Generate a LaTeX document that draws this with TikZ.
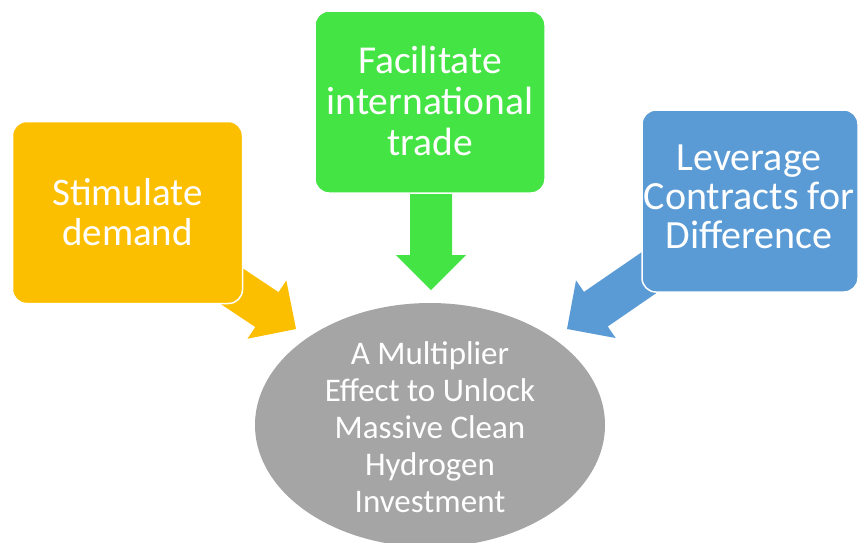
\documentclass[tikz,border=0pt]{standalone}
\usepackage{fontspec}
\setmainfont{Carlito}
\usetikzlibrary{shapes.geometric}
\definecolor{cOrange}{HTML}{FCBF00}
\definecolor{cGreen}{HTML}{45E445}
\definecolor{cBlue}{HTML}{5B9BD5}
\definecolor{cGray}{HTML}{A5A5A5}
\newcommand{\blockarrow}[4]{%
  \begin{scope}[shift={(#2)}, rotate=#3]
    \fill[#1] (0,0) -- (-35,35) -- (-35,21) -- (-#4,21) -- (-#4,-21) -- (-35,-21) -- (-35,-35) -- cycle;
  \end{scope}}
\begin{document}
\begin{tikzpicture}[x=1pt,y=-1pt,
  boxnode/.style={draw=white, line width=1.5pt, rounded corners=14pt, minimum width=#1, minimum height=182pt, inner sep=0pt},
  boxtext/.style={text=white, align=center},
  goaltext/.style={text=white, align=center, font=\fontsize{33}{37}\selectfont}]
\useasboundingbox (0,0) rectangle (859,542);
% tips of the block arrows
\coordinate (tipO) at (296,329);
\coordinate (tipG) at (431,290);
\coordinate (tipB) at (567,329);
\blockarrow{cOrange}{tipO}{-33.7}{120}
\blockarrow{cGreen}{tipG}{-90}{110}
\blockarrow{cBlue}{tipB}{214.5}{130}
% boxes
\node (stim) [boxnode=230pt, fill=cOrange] at (127.5,212.5) {};
\node (trade) [boxnode=230pt, fill=cGreen] at (430,102) {};
\node (cfd) [boxnode=216pt, fill=cBlue] at (750,201) {};
\node[boxtext, font=\fontsize{39}{40}\selectfont] at (stim) {Stimulate\\demand};
\node[boxtext, font=\fontsize{39.5}{41}\selectfont] at ([yshift=1pt]trade) {Facilitate\\international\\trade};
\node[boxtext, font=\fontsize{40}{39}\selectfont] at ([yshift=4pt,xshift=-1pt]cfd) {Leverage\\Contracts for\\Difference};
% goal ellipse
\node (goal) [ellipse, fill=cGray, minimum width=350pt, minimum height=244pt, inner sep=0pt] at (430,425) {};
\node[goaltext] at ([yshift=-2pt]goal) {A Multiplier\\Effect to Unlock\\Massive Clean\\Hydrogen\\Investment};
\end{tikzpicture}
\end{document}
